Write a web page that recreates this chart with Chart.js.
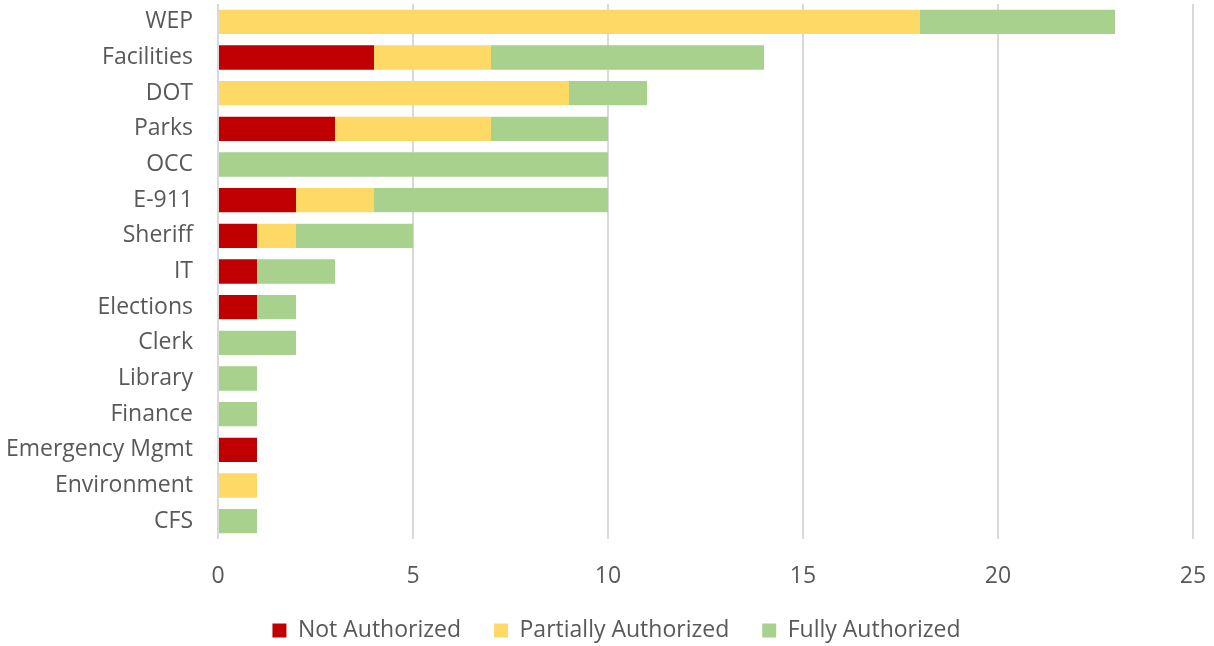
<!DOCTYPE html>
<html><head><meta charset="utf-8">
<script src="https://cdn.jsdelivr.net/npm/chart.js@4/dist/chart.umd.min.js"></script>
<style>html,body{margin:0;padding:0;background:#fff}#wrap{width:1214px;height:646px}</style>
</head><body><div id="wrap"><canvas id="c"></canvas></div>
<script>
const categories = ["WEP","Facilities","DOT","Parks","OCC","E-911","Sheriff","IT","Elections","Clerk","Library","Finance","Emergency Mgmt","Environment","CFS"];
const notAuthorized =       [0,4,0,3,0,2,1,1,1,0,0,0,1,0,0];
const partiallyAuthorized = [18,3,9,4,0,2,1,0,0,0,0,0,0,1,0];
const fullyAuthorized =     [5,7,2,3,10,6,3,2,1,2,1,1,0,0,1];
const xTicks = [0,5,10,15,20,25];

const FONT = "'Open Sans', 'Noto Sans', sans-serif";

const layoutTweak = {
  id: 'layoutTweak',
  afterLayout(chart) {
    const x = chart.scales.x;
    x.bottom = x.top + 70;            // let tick labels overflow the reserved band
    chart.legend.left += 20;          // legend is centred slightly right of canvas centre
    chart.legend.right += 20;
  }
};

new Chart(document.getElementById('c'), {
  type: 'bar',
  data: {
    labels: categories,
    datasets: [
      {label: 'Not Authorized', data: notAuthorized, backgroundColor: '#C00000'},
      {label: 'Partially Authorized', data: partiallyAuthorized, backgroundColor: '#FFD966'},
      {label: 'Fully Authorized', data: fullyAuthorized, backgroundColor: '#A9D18E'}
    ]
  },
  plugins: [layoutTweak],
  options: {
    indexAxis: 'y',
    responsive: true,
    maintainAspectRatio: false,
    animation: false,
    datasets: {bar: {barPercentage: 0.68, categoryPercentage: 1.0}},
    layout: {padding: {top: 4, right: 21, bottom: -6, left: 0}},
    plugins: {
      legend: {
        position: 'bottom',
        labels: {
          font: {family: FONT, size: 23},
          color: '#595959',
          boxWidth: 14, boxHeight: 14,
          padding: 33
        }
      },
      tooltip: {enabled: false}
    },
    scales: {
      x: {
        stacked: true,
        min: 0, max: 25,
        afterBuildTicks: (axis) => { axis.ticks = xTicks.map(v => ({value: v})); },
        afterFit: (axis) => { axis.paddingRight = 0; axis.paddingLeft = 0; axis.height = 47; },
        ticks: {font: {family: FONT, size: 23}, color: '#595959', padding: 24},
        grid: {color: '#D9D9D9', lineWidth: 2, drawTicks: false},
        border: {display: false}
      },
      y: {
        stacked: true,
        afterFit: (axis) => { axis.width = 218; axis.paddingTop = 0; axis.paddingBottom = 0; },
        ticks: {font: {family: FONT, size: 23}, color: '#595959', padding: 25, autoSkip: false},
        grid: {display: false, drawTicks: false},
        border: {display: false}
      }
    }
  }
});
</script>
</body></html>
